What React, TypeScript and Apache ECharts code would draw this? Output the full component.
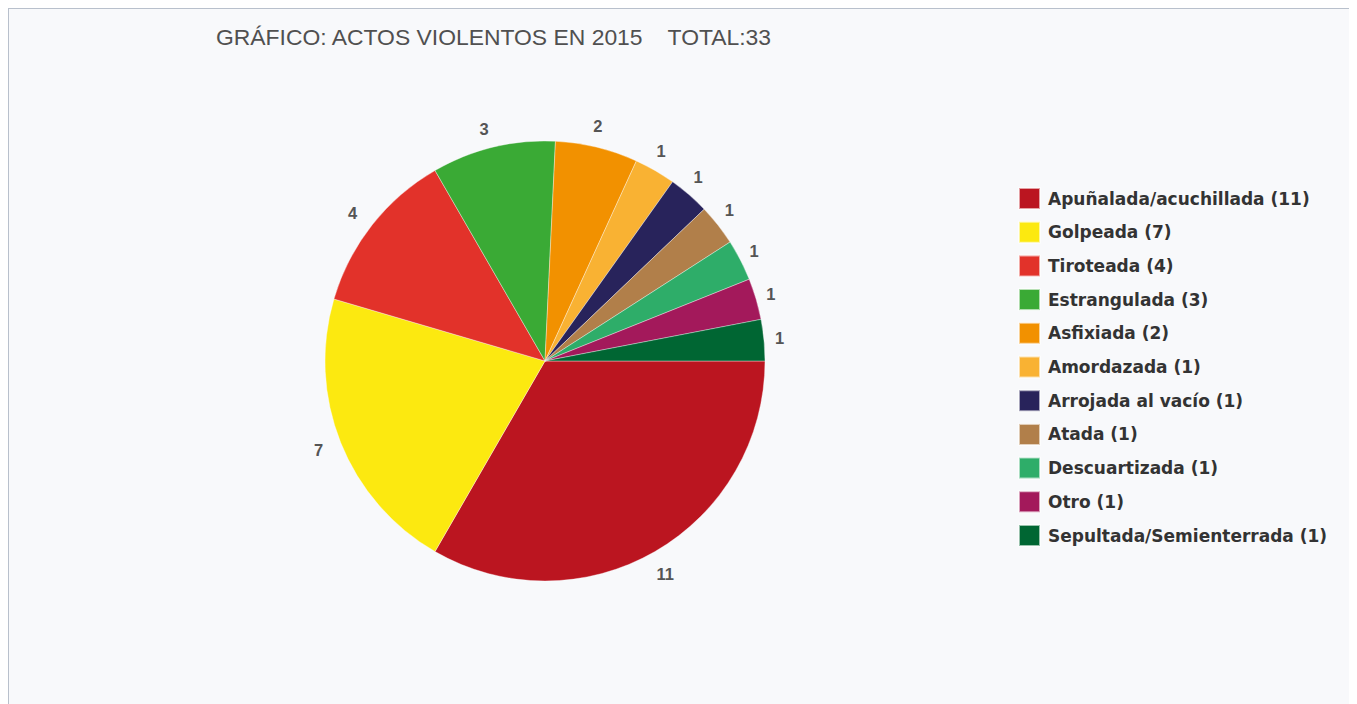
import React, { useEffect, useRef } from "react";
import * as echarts from "echarts";

const categories = [
  "Apuñalada/acuchillada",
  "Golpeada",
  "Tiroteada",
  "Estrangulada",
  "Asfixiada",
  "Amordazada",
  "Arrojada al vacío",
  "Atada",
  "Descuartizada",
  "Otro",
  "Sepultada/Semienterrada",
];
const values = [11, 7, 4, 3, 2, 1, 1, 1, 1, 1, 1];
const colors = [
  "#bb1520",
  "#fce910",
  "#e2322a",
  "#3aaa35",
  "#f29100",
  "#f9b233",
  "#28235b",
  "#b17f4a",
  "#2ead69",
  "#a3195b",
  "#006633",
];
const titleText = "GRÁFICO: ACTOS VIOLENTOS EN 2015    TOTAL:33";
const pieCenter = [536, 352];

export default function App() {
  const ref = useRef<HTMLDivElement>(null);
  useEffect(() => {
    if (!ref.current) return;
    const chart = echarts.init(ref.current, undefined, { renderer: "svg" });
    const data = categories.map((name, i) => ({
      name,
      value: values[i],
      itemStyle: { color: colors[i] },
    }));
    const lookup: Record<string, number> = {};
    categories.forEach((c, i) => (lookup[c] = values[i]));
    chart.setOption({
      animation: false,
      backgroundColor: "#f8f9fb",
      title: {
        text: titleText,
        left: 207,
        top: 16,
        padding: 0,
        textStyle: {
          fontFamily: "Liberation Sans",
          fontSize: 22.9,
          fontWeight: "normal",
          color: "#505050",
        },
      },
      legend: {
        orient: "vertical",
        left: 1004,
        top: 173,
        padding: 5,
        itemWidth: 21,
        itemHeight: 21,
        itemGap: 10.7,
        icon: "rect",
        selectedMode: false,
        formatter: (name: string) => `${name} (${lookup[name]})`,
        textStyle: {
          fontFamily: "DejaVu Sans",
          fontWeight: "bold",
          fontSize: 17,
          lineHeight: 21,
          color: "#333333",
          padding: [0, 0, 0, 3],
        },
        data: categories,
      },
      series: [
        {
          type: "pie",
          center: pieCenter,
          radius: [0, 220],
          startAngle: 0,
          clockwise: true,
          data,
          itemStyle: { borderColor: "rgba(255,255,255,0.6)", borderWidth: 0.6 },
          label: {
            show: true,
            position: "outside",
            formatter: "{c}",
            fontFamily: "Liberation Sans",
            fontWeight: "bold",
            fontSize: 16.5,
            color: "#555555",
          },
          labelLine: { show: false, length: 19, length2: 0 },
          labelLayout: (p: any) => {
            const rightSide =
              p.align != null ? p.align === "left" : p.labelRect.x > pieCenter[0];
            const below = p.labelRect.y > pieCenter[1];
            const upperRight = rightSide && p.labelRect.y < pieCenter[1] - 150;
            return {
              dx: rightSide ? -13 : 5,
              dy: rightSide && below ? 6 : upperRight ? -3 : 0,
            };
          },
          emphasis: { disabled: true },
        },
      ],
    });
    return () => chart.dispose();
  }, []);
  return (
    <div
      style={{
        width: 1348,
        height: 695,
        borderTop: "1px solid #b8c0cc",
        borderLeft: "1px solid #b8c0cc",
        overflow: "hidden",
      }}
    >
      <div ref={ref} style={{ width: 1348, height: 695 }} />
    </div>
  );
}
